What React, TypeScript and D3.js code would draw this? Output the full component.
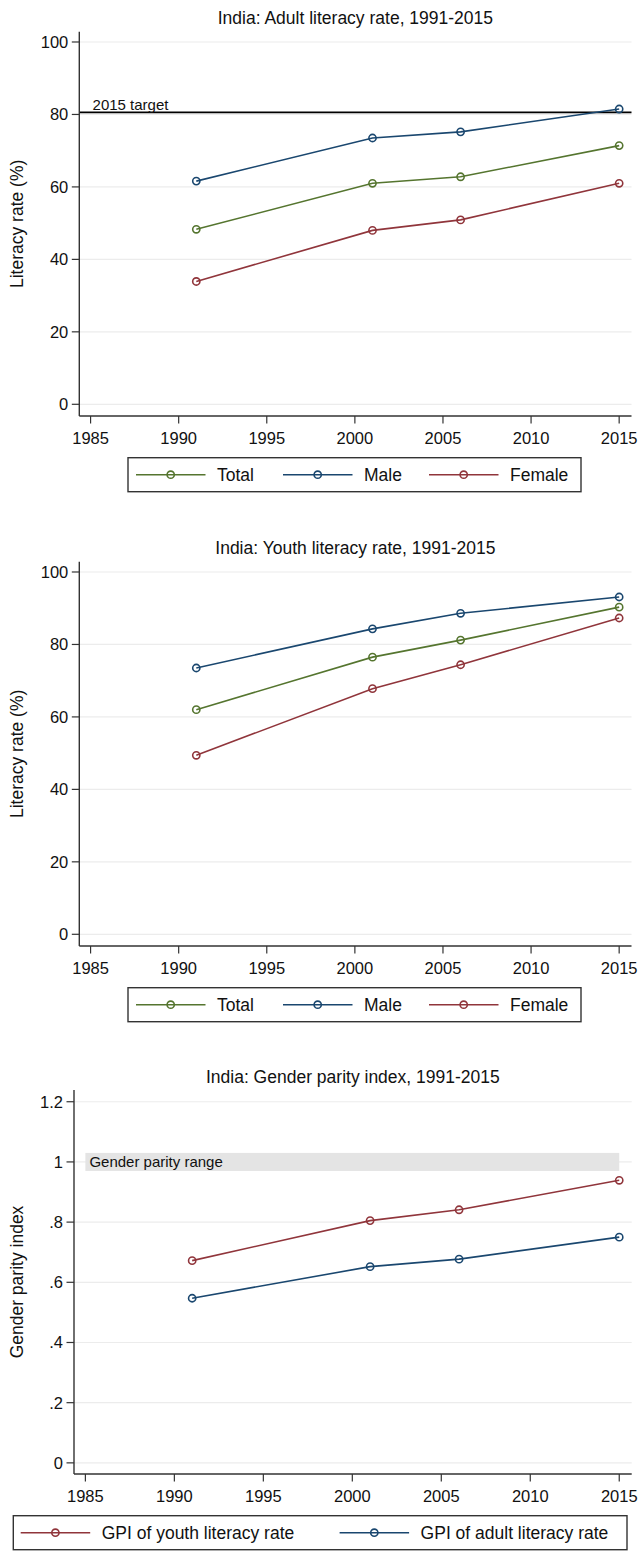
import React from 'react';
import * as d3 from 'd3';

// India literacy charts (three stacked Stata-style panels)
const years = [1991, 2001, 2006, 2015];

const adultTotal = [48.3, 61.0, 62.8, 71.4];
const adultMale = [61.6, 73.5, 75.2, 81.5];
const adultFemale = [33.9, 48.0, 50.9, 61.0];

const youthTotal = [62.0, 76.5, 81.2, 90.3];
const youthMale = [73.5, 84.3, 88.6, 93.1];
const youthFemale = [49.4, 67.8, 74.4, 87.3];

const gpiYouth = [0.672, 0.805, 0.841, 0.939];
const gpiAdult = [0.547, 0.652, 0.677, 0.75];

const xTicks = [1985, 1990, 1995, 2000, 2005, 2010, 2015];
const literacyTicks = [0, 20, 40, 60, 80, 100];
const gpiTicks = [0, 0.2, 0.4, 0.6, 0.8, 1, 1.2];
const gpiTickLabels = ['0', '.2', '.4', '.6', '.8', '1', '1.2'];

const adultTarget = 80.6;
const parityBand = [0.97, 1.03];

const GREEN = '#55752f';
const NAVY = '#1a476f';
const MAROON = '#90353b';
const FONT = '"Liberation Sans", Arial, sans-serif';

type Series = { name: string; values: number[]; color: string };

type PanelProps = {
  title: string;
  yTitle: string;
  left: number;
  right: number;
  top: number;
  bottom: number;
  yDomain: [number, number];
  yTicks: number[];
  yTickLabels: string[];
  series: Series[];
  legendOrder: Series[];
  legendBox: { x0: number; x1: number };
  legendItemX: number[];
  children?: (x: d3.ScaleLinear<number, number>, y: d3.ScaleLinear<number, number>) => React.ReactNode;
};

const Panel = ({
  title, yTitle, left, right, top, bottom, yDomain, yTicks, yTickLabels,
  series, legendOrder, legendBox, legendItemX, children,
}: PanelProps) => {
  const x = d3.scaleLinear().domain([1984.36, 2015.7]).range([left, right]);
  const y = d3.scaleLinear().domain(yDomain).range([bottom, top]);

  const line = d3.line<[number, number]>()
    .x((d) => x(d[0]))
    .y((d) => y(d[1]));

  const legendTop = bottom + 41.7;
  const legendH = 34;

  return (
    <g>
      {/* title */}
      <text x={(left + right) / 2} y={top - 7.5} textAnchor="middle" fontSize={17.5} fontFamily={FONT} fill="#111">
        {title}
      </text>

      {/* gridlines */}
      {yTicks.map((t) => (
        <line key={'g' + t} x1={left} x2={right} y1={y(t)} y2={y(t)} stroke="#ececec" strokeWidth={1.2} />
      ))}

      {children && children(x, y)}

      {/* series */}
      {series.map((s) => {
        const pts = years.map((yr, i) => [yr, s.values[i]] as [number, number]);
        return (
          <g key={s.name}>
            <path d={line(pts) || ''} fill="none" stroke={s.color} strokeWidth={1.6} />
            {pts.map((p, i) => (
              <circle key={i} cx={x(p[0])} cy={y(p[1])} r={3.6} fill="none" stroke={s.color} strokeWidth={1.6} />
            ))}
          </g>
        );
      })}

      {/* y axis */}
      <line x1={left} x2={left} y1={top} y2={bottom} stroke="#333" strokeWidth={1.4} />
      {yTicks.map((t, i) => (
        <g key={'y' + t}>
          <line x1={left - 7.5} x2={left} y1={y(t)} y2={y(t)} stroke="#333" strokeWidth={1.2} />
          <text x={left - 11} y={y(t)} dy="0.36em" textAnchor="end" fontSize={16.5} fontFamily={FONT} fill="#111">
            {yTickLabels[i]}
          </text>
        </g>
      ))}
      <text
        transform={`translate(23, ${(top + bottom) / 2}) rotate(-90)`}
        textAnchor="middle"
        fontSize={17.5}
        fontFamily={FONT}
        fill="#111"
      >
        {yTitle}
      </text>

      {/* x axis */}
      <line x1={left} x2={right} y1={bottom} y2={bottom} stroke="#333" strokeWidth={1.4} />
      {xTicks.map((t) => (
        <g key={'x' + t}>
          <line x1={x(t)} x2={x(t)} y1={bottom} y2={bottom + 7.5} stroke="#333" strokeWidth={1.2} />
          <text x={x(t)} y={bottom + 28} textAnchor="middle" fontSize={16.5} fontFamily={FONT} fill="#111">
            {t}
          </text>
        </g>
      ))}

      {/* legend */}
      <rect
        x={legendBox.x0}
        y={legendTop}
        width={legendBox.x1 - legendBox.x0}
        height={legendH}
        fill="#fff"
        stroke="#333"
        strokeWidth={1.4}
      />
      {legendOrder.map((s, i) => {
        const lx = legendItemX[i];
        const ly = legendTop + legendH / 2;
        return (
          <g key={'l' + s.name}>
            <line x1={lx} x2={lx + 69.5} y1={ly} y2={ly} stroke={s.color} strokeWidth={1.6} />
            <circle cx={lx + 34.7} cy={ly} r={3.6} fill="none" stroke={s.color} strokeWidth={1.6} />
            <text x={lx + 81} y={ly} dy="0.36em" fontSize={17.5} fontFamily={FONT} fill="#111">
              {s.name}
            </text>
          </g>
        );
      })}
    </g>
  );
};

const App = () => {
  const adultSeries: Series[] = [
    { name: 'Total', values: adultTotal, color: GREEN },
    { name: 'Male', values: adultMale, color: NAVY },
    { name: 'Female', values: adultFemale, color: MAROON },
  ];
  const youthSeries: Series[] = [
    { name: 'Total', values: youthTotal, color: GREEN },
    { name: 'Male', values: youthMale, color: NAVY },
    { name: 'Female', values: youthFemale, color: MAROON },
  ];
  const gpiSeries: Series[] = [
    { name: 'GPI of youth literacy rate', values: gpiYouth, color: MAROON },
    { name: 'GPI of adult literacy rate', values: gpiAdult, color: NAVY },
  ];
  const literacyLabels = literacyTicks.map(String);

  return (
    <svg
      width={642}
      height={1551}
      style={{ position: 'absolute', left: 0, top: 0, background: '#fff' }}
    >
      <rect width={642} height={1551} fill="#fff" />

      <Panel
        title="India: Adult literacy rate, 1991-2015"
        yTitle="Literacy rate (%)"
        left={79.3}
        right={631.5}
        top={31.7}
        bottom={416}
        yDomain={[-3.23, 102.84]}
        yTicks={literacyTicks}
        yTickLabels={literacyLabels}
        series={adultSeries}
        legendOrder={adultSeries}
        legendBox={{ x0: 128, x1: 581 }}
        legendItemX={[136, 283, 429]}
      >
        {(x, y) => (
          <g>
            <line x1={x.range()[0]} x2={x.range()[1]} y1={y(adultTarget)} y2={y(adultTarget)} stroke="#000" strokeWidth={1.8} />
            <text x={x(1985) + 2} y={y(adultTarget) - 2} fontSize={15} fontFamily={FONT} fill="#111">
              2015 target
            </text>
          </g>
        )}
      </Panel>

      <Panel
        title="India: Youth literacy rate, 1991-2015"
        yTitle="Literacy rate (%)"
        left={79.3}
        right={631.5}
        top={561.7}
        bottom={946}
        yDomain={[-3.23, 102.84]}
        yTicks={literacyTicks}
        yTickLabels={literacyLabels}
        series={youthSeries}
        legendOrder={youthSeries}
        legendBox={{ x0: 128, x1: 581 }}
        legendItemX={[136, 283, 429]}
      />

      <Panel
        title="India: Gender parity index, 1991-2015"
        yTitle="Gender parity index"
        left={74}
        right={631.7}
        top={1090}
        bottom={1474}
        yDomain={[-0.037, 1.239]}
        yTicks={gpiTicks}
        yTickLabels={gpiTickLabels}
        series={gpiSeries}
        legendOrder={gpiSeries}
        legendBox={{ x0: 13.3, x1: 627 }}
        legendItemX={[20.7, 339.6]}
      >
        {(x, y) => (
          <g>
            <rect
              x={x(1985)}
              y={y(parityBand[1])}
              width={x(2015) - x(1985)}
              height={y(parityBand[0]) - y(parityBand[1])}
              fill="#e4e4e4"
            />
            <text x={x(1985) + 4} y={y(1)} dy="0.36em" fontSize={15} fontFamily={FONT} fill="#111">
              Gender parity range
            </text>
          </g>
        )}
      </Panel>
    </svg>
  );
};

export default App;
